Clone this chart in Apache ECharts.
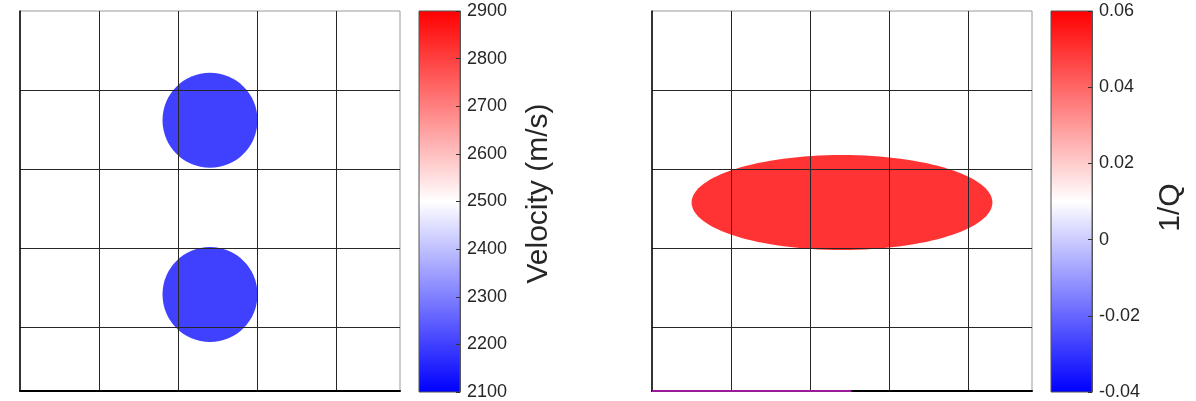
<!DOCTYPE html>
<html><head><meta charset="utf-8">
<script src="https://cdn.jsdelivr.net/npm/echarts@6/dist/echarts.min.js"></script>
<style>html,body{margin:0;padding:0;background:#fff}#c{width:1196px;height:401px}</style>
</head><body><div id="c"></div>
<script>
// ---- data ----
const modelExtent = [0, 240];          // model size (cells), both directions
const gridStep = 50;                   // grid line spacing
// Velocity model: background and anomalies [cx, cz, rx, rz, value]
const velBackground = 2500;
const velAnomalies = [
  [120, 69, 30, 30, 2200],
  [120, 179, 30, 30, 2200]
];
const velRange = [2100, 2900];
const velTickStep = 100;
// 1/Q model
const qBackground = 0.01;
const qAnomalies = [
  [120, 121, 95, 30, 0.05]
];
const qRange = [-0.04, 0.06];
const qTickStep = 0.02;
// receiver line along the surface of the right panel
const receiverLine = [[0, 240], [126, 240]];

// ---- chart ----
const FONT = "'Liberation Sans', Arial, Helvetica, sans-serif";
const TXT = '#262626';
const cmap = ['#0000ff', '#ffffff', '#ff0000'];

function renderRect(params, api) {
  const p0 = api.coord([api.value(0), api.value(1)]);
  const p1 = api.coord([api.value(2), api.value(3)]);
  return {type: 'rect', shape: {x: Math.min(p0[0], p1[0]), y: Math.min(p0[1], p1[1]),
    width: Math.abs(p1[0] - p0[0]), height: Math.abs(p1[1] - p0[1])},
    style: {fill: api.visual('color')}};
}
function renderEllipse(params, api) {
  const c = api.coord([api.value(0), api.value(1)]);
  const s = api.size([api.value(2), api.value(3)]);
  return {type: 'ellipse', shape: {cx: c[0], cy: c[1], rx: s[0], ry: s[1]},
    style: {fill: api.visual('color')}};
}
function renderColorbar(params, api) {
  const p0 = api.coord([api.value(0), api.value(1)]);
  const p1 = api.coord([api.value(2), api.value(3)]);
  const stops = cmap.map((c, i) => ({offset: i / (cmap.length - 1), color: c}));
  return {type: 'rect', shape: {x: Math.min(p0[0], p1[0]), y: Math.min(p0[1], p1[1]),
    width: Math.abs(p1[0] - p0[0]), height: Math.abs(p1[1] - p0[1])},
    style: {fill: new echarts.graphic.LinearGradient(0, 1, 0, 0, stops)}};
}
const fmt = v => String(parseFloat(Number(v).toFixed(4)));

function modelXAxis(gi) {
  return {gridIndex: gi, type: 'value', min: modelExtent[0], max: modelExtent[1], interval: gridStep, z: 7,
    axisLabel: {show: false}, axisTick: {show: false}, minorTick: {show: false},
    axisLine: {show: true, onZero: false, lineStyle: {color: '#000', width: 2}},
    splitLine: {show: true, showMinLine: false, showMaxLine: false, lineStyle: {color: '#262626', width: 1}}};
}
function modelYAxis(gi) {
  return {gridIndex: gi, type: 'value', inverse: true, min: modelExtent[0], max: modelExtent[1], interval: gridStep, z: 7,
    axisLabel: {show: false}, axisTick: {show: false}, minorTick: {show: false},
    axisLine: {show: true, onZero: false, lineStyle: {color: '#000', width: 1.5}},
    splitLine: {show: true, showMinLine: false, showMaxLine: false, lineStyle: {color: '#262626', width: 1}}};
}
function cbYAxis(gi, range, step, name, pad) {
  return {gridIndex: gi, type: 'value', position: 'right', min: range[0], max: range[1], interval: step, z: 11,
    axisLine: {show: true, onZero: false, lineStyle: {color: '#555', width: 1}},
    axisTick: {show: true, inside: true, length: 4, lineStyle: {color: '#333'}},
    axisLabel: {color: TXT, fontSize: 18, fontFamily: FONT, margin: 7, formatter: fmt},
    splitLine: {show: false},
    name: name, nameLocation: 'middle', nameRotate: 90, nameGap: 64,
    nameTextStyle: {color: TXT, fontSize: 30, fontFamily: FONT, padding: pad}};
}
function cbXAxis(gi) {
  return {gridIndex: gi, type: 'value', show: false, min: 0, max: 1};
}

const option = {
  animation: false,
  backgroundColor: '#fff',
  grid: [
    {left: 20, top: 11, width: 380, height: 380, show: true, z: 6, backgroundColor: 'transparent', borderColor: '#9a9a9a', borderWidth: 1},
    {left: 419, top: 11, width: 41, height: 381, show: true, z: 10, backgroundColor: 'transparent', borderColor: '#555', borderWidth: 1},
    {left: 652, top: 11, width: 380, height: 380, show: true, z: 6, backgroundColor: 'transparent', borderColor: '#9a9a9a', borderWidth: 1},
    {left: 1051, top: 11, width: 41, height: 381, show: true, z: 10, backgroundColor: 'transparent', borderColor: '#555', borderWidth: 1}
  ],
  xAxis: [modelXAxis(0), cbXAxis(1), modelXAxis(2), cbXAxis(3)],
  yAxis: [modelYAxis(0), cbYAxis(1, velRange, velTickStep, 'Velocity (m/s)', [0, 0, 0, 16]),
          modelYAxis(2), cbYAxis(3, qRange, qTickStep, '1/Q', [0, 12, 0, 0])],
  visualMap: [
    {type: 'continuous', show: false, min: velRange[0], max: velRange[1], dimension: 4, seriesIndex: [0, 1],
     inRange: {color: cmap}},
    {type: 'continuous', show: false, min: qRange[0], max: qRange[1], dimension: 4, seriesIndex: [2, 3],
     inRange: {color: cmap}}
  ],
  series: [
    {type: 'custom', xAxisIndex: 0, yAxisIndex: 0, renderItem: renderRect, encode: {x: [0, 2], y: [1, 3]},
     data: [[modelExtent[0], modelExtent[0], modelExtent[1], modelExtent[1], velBackground]], z: 1},
    {type: 'custom', xAxisIndex: 0, yAxisIndex: 0, renderItem: renderEllipse, encode: {x: 0, y: 1},
     data: velAnomalies, z: 2},
    {type: 'custom', xAxisIndex: 2, yAxisIndex: 2, renderItem: renderRect, encode: {x: [0, 2], y: [1, 3]},
     data: [[modelExtent[0], modelExtent[0], modelExtent[1], modelExtent[1], qBackground]], z: 1},
    {type: 'custom', xAxisIndex: 2, yAxisIndex: 2, renderItem: renderEllipse, encode: {x: 0, y: 1},
     data: qAnomalies, z: 2},
    {type: 'line', xAxisIndex: 2, yAxisIndex: 2, data: receiverLine, symbol: 'none', z: 12,
     lineStyle: {color: '#9a1a9a', width: 2}, silent: true},
    {type: 'custom', xAxisIndex: 1, yAxisIndex: 1, renderItem: renderColorbar, encode: {x: [0, 2], y: [1, 3]},
     data: [[0, velRange[0], 1, velRange[1]]], z: 2, silent: true},
    {type: 'custom', xAxisIndex: 3, yAxisIndex: 3, renderItem: renderColorbar, encode: {x: [0, 2], y: [1, 3]},
     data: [[0, qRange[0], 1, qRange[1]]], z: 2, silent: true}
  ]
};
echarts.init(document.getElementById('c')).setOption(option);
</script></body></html>
